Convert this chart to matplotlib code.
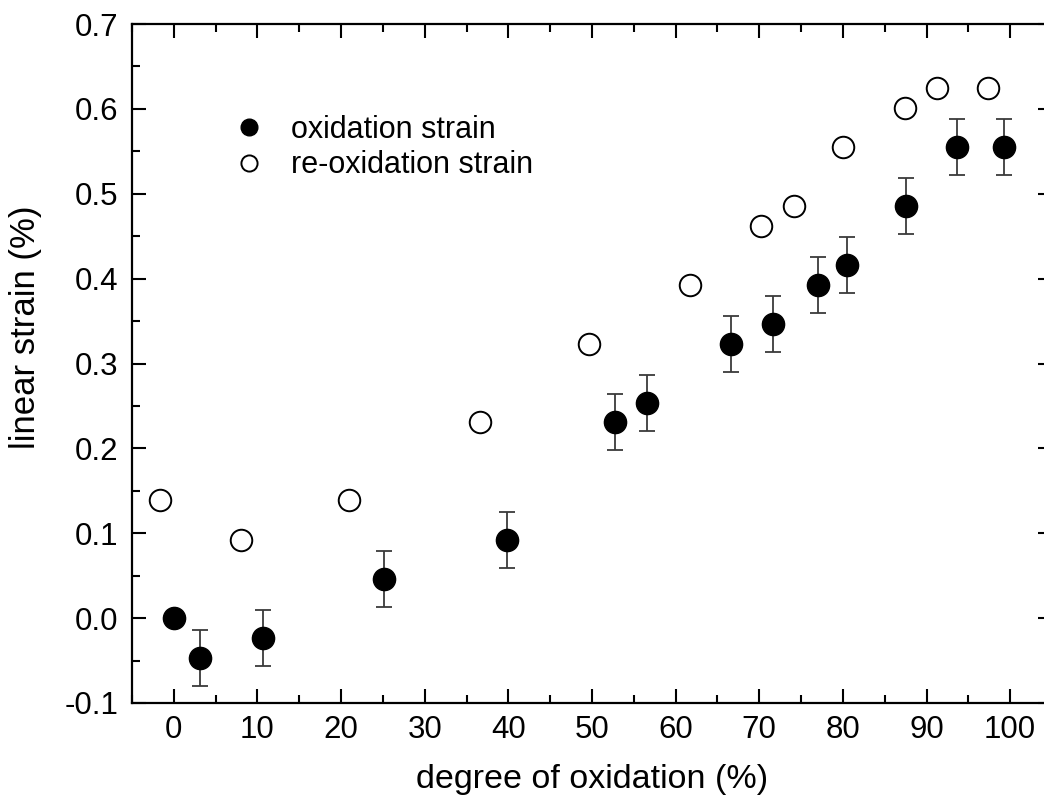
import matplotlib
matplotlib.use("Agg")
import matplotlib.pyplot as plt
from matplotlib.ticker import MultipleLocator

plt.rcParams['font.family'] = ['Liberation Sans', 'DejaVu Sans']
plt.rcParams['axes.unicode_minus'] = False

# oxidation strain (filled, with error bars)
ox_x = [0.0, 3.1, 10.7, 25.1, 39.8, 52.8, 56.6, 66.6, 71.6, 77.0, 80.5, 87.5, 93.6, 99.3]
ox_y = [0.0, -0.047, -0.023, 0.046, 0.092, 0.231, 0.254, 0.323, 0.347, 0.393, 0.416, 0.486, 0.555, 0.555]
ox_err = [0.0, 0.033, 0.033, 0.033, 0.033, 0.033, 0.033, 0.033, 0.033, 0.033, 0.033, 0.033, 0.033, 0.033]

# re-oxidation strain (open circles)
re_x = [-1.7, 8.0, 21.0, 36.6, 49.7, 61.7, 70.2, 74.2, 80.0, 87.4, 91.2, 97.4]
re_y = [0.139, 0.092, 0.139, 0.231, 0.323, 0.392, 0.462, 0.486, 0.555, 0.601, 0.625, 0.625]

fig = plt.figure(figsize=(10.44, 8.02), dpi=100)
ax = fig.add_axes([132/1044, 1 - 703/802, 920/1044, 679/802])

ax.errorbar(ox_x, ox_y, yerr=ox_err, fmt='none', ecolor='#3a3a3a',
            elinewidth=1.3, capsize=5.5, capthick=1.3, zorder=2)
l1, = ax.plot(ox_x, ox_y, 'o', color='black', markersize=16, zorder=3,
              label='oxidation strain')
l2, = ax.plot(re_x, re_y, 'o', markerfacecolor='white', markeredgecolor='black',
              markeredgewidth=1.4, markersize=15.5, zorder=3,
              label='re-oxidation strain')

ax.set_xlim(-5, 105)
ax.set_ylim(-0.1, 0.7)
ax.xaxis.set_major_locator(MultipleLocator(10))
ax.xaxis.set_minor_locator(MultipleLocator(5))
ax.yaxis.set_major_locator(MultipleLocator(0.1))
ax.yaxis.set_minor_locator(MultipleLocator(0.05))
ax.yaxis.set_major_formatter(lambda v, p: f"{v:.1f}")

for s in ax.spines.values():
    s.set_linewidth(1.6)
ax.tick_params(which='both', direction='in', top=True, right=True, width=1.5)
ax.tick_params(which='major', length=10, labelsize=22.5)
ax.tick_params(axis='x', which='major', pad=9)
ax.tick_params(axis='y', which='major', pad=10)
ax.tick_params(which='minor', length=5.5)

ax.set_xlabel('degree of oxidation (%)', fontsize=24.5, labelpad=13)
ax.set_ylabel('linear strain (%)', fontsize=25)
ax.yaxis.set_label_coords(-0.098, 0.554)

leg = ax.legend(handles=[l1, l2], loc='upper left', bbox_to_anchor=(0.0935, 0.866),
                frameon=False, fontsize=22, markerscale=0.75, handlelength=2.0,
                handletextpad=0.4, labelspacing=0.18, borderpad=0, borderaxespad=0)

fig.savefig('out.png', dpi=100)
